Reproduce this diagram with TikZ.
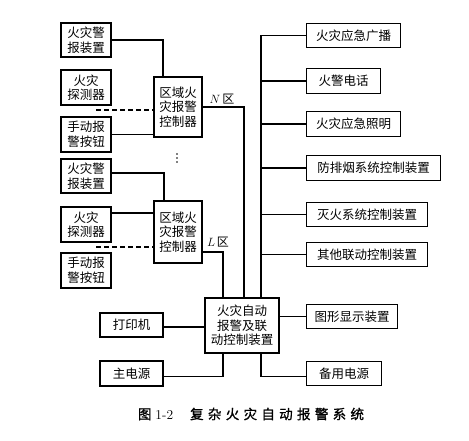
\documentclass[tikz,border=0pt]{standalone}
\usepackage{fontspec}
\newfontfamily\cjk{Noto Sans CJK SC}
\newfontfamily\cjkcap[LetterSpace=32,FakeBold=1.2]{Noto Sans CJK SC}
\begin{document}
\begin{tikzpicture}[x=1pt,y=-1pt,
  box/.style={draw, line width=1.2pt, inner sep=0pt, align=center,
    font=\cjk\fontsize{12.5}{14.5}\selectfont},
  rbox/.style={box, anchor=west, minimum height=24.5pt},
  ln/.style={line width=1.2pt},
  dl/.style={line width=1.2pt, dash pattern=on 5pt off 3pt},
  lab/.style={inner sep=0pt, font=\fontsize{12}{14}\selectfont}]
\useasboundingbox (0,0) rectangle (469,441);
% left inputs
\node[box, minimum width=50pt, minimum height=34pt] (b1) at (86,40) {火灾警\\报装置};
\node[box, minimum width=50pt, minimum height=35pt] (b2) at (86,87.5) {火灾\\探测器};
\node[box, minimum width=50pt, minimum height=35pt] (b3) at (86,134.5) {手动报\\警按钮};
\node[box, minimum width=50pt, minimum height=34pt] (b4) at (86,176) {火灾警\\报装置};
\node[box, minimum width=50pt, minimum height=35pt] (b5) at (86,224.5) {火灾\\探测器};
\node[box, minimum width=50pt, minimum height=35pt] (b6) at (86,270.5) {手动报\\警按钮};
% controllers
\node[box, minimum width=48pt, minimum height=60pt] (cN) at (178,107) {区域火\\灾报警\\控制器};
\node[box, minimum width=48pt, minimum height=62pt] (cL) at (178,232) {区域火\\灾报警\\控制器};
\foreach \yy in {154,158,162} \fill (177,\yy) circle (0.9pt);
% central
\node[box, minimum width=74pt, minimum height=55pt] (ctr) at (242,325.5) {火灾自动\\报警及联\\动控制装置};
% bottom left
\node[box, minimum width=63pt, minimum height=24pt] (pr) at (131.5,325) {打印机};
\node[box, minimum width=63pt, minimum height=25pt] (mp) at (131.5,373.5) {主电源};
% right outputs
\node[rbox, minimum width=94pt] (r1) at (306,35.5) {火灾应急广播};
\node[rbox, minimum width=74pt] (r2) at (306,81) {火警电话};
\node[rbox, minimum width=94pt] (r3) at (306,124) {火灾应急照明};
\node[rbox, minimum width=134pt] (r4) at (306,168) {防排烟系统控制装置};
\node[rbox, minimum width=121pt] (r5) at (306,214.5) {灭火系统控制装置};
\node[rbox, minimum width=121pt] (r6) at (306,254.5) {其他联动控制装置};
\node[rbox, minimum width=91pt] (r7) at (306,316.5) {图形显示装置};
\node[rbox, minimum width=75pt] (r8) at (306,373.5) {备用电源};
% labels
\node[lab] (nl) at (222,99) {$N$\,{\cjk 区}};
\node[lab] (ll) at (218,242) {$L$\,{\cjk 区}};
% dashed starts
\coordinate (d1) at (96,110);
\coordinate (d2) at (96,247);
\coordinate (bx) at ([xshift=19pt]ctr.north);
% connectors, N group
\draw[ln] (b1.east) -| ([xshift=-15pt]cN.north);
\draw[ln] (b3.east) -- (b3.east -| cN.west);
\draw[dl] (d1) -- (d1 -| cN.west);
% L group
\draw[ln] ([yshift=3pt]b4.east) -| ([xshift=-14pt]cL.north);
\draw[ln] ([yshift=11.5pt]b5.east) -- ([yshift=11.5pt]b5.east -| cL.west);
\draw[dl] (d2) -- (d2 -| cL.west);
% to central
\draw[ln] (cN.east) -| ([xshift=2pt]ctr.north);
\draw[ln] ([yshift=-20pt]cL.east) -| ([xshift=-19pt]ctr.north);
% bus
\draw[ln] (r1.west) -| (bx);
\foreach \r in {r2,r3,r4,r5,r6} \draw[ln] (\r.west) -- (\r.west -| bx);
\draw[ln] (r7.west) -- (r7.west -| ctr.east);
\draw[ln] (bx |- ctr.south) |- ([yshift=-3pt]r8.west);
\draw[ln] ([yshift=-2pt]pr.east) -- ([yshift=-2pt]pr.east -| ctr.west);
\draw[ln] ([yshift=-3pt]mp.east) -| ([xshift=-19pt]ctr.south);
% caption
\node[inner sep=0pt, font=\fontsize{13.5}{15}\selectfont] (cap) at (251,414)
  {{\cjkcap 图}\hspace{4pt}1-2\hspace{17pt}{\cjkcap 复杂火灾自动报警系统}};
\end{tikzpicture}
\end{document}
